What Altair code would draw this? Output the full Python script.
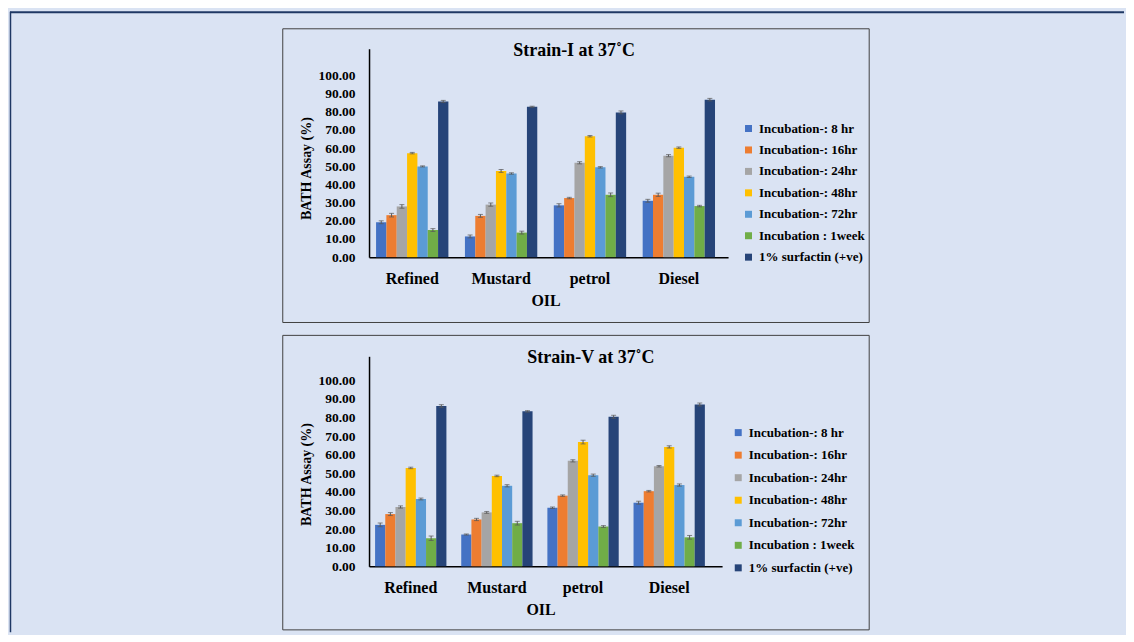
import altair as alt
import pandas as pd

FONT = "Liberation Serif"

oils = ["Refined", "Mustard", "petrol", "Diesel"]
series = [
    "Incubation-: 8 hr",
    "Incubation-: 16hr",
    "Incubation-: 24hr",
    "Incubation-: 48hr",
    "Incubation-: 72hr",
    "Incubation : 1week",
    "1% surfactin (+ve)",
]
colors = ["#4472C4", "#ED7D31", "#A5A5A5", "#FFC000", "#5B9BD5", "#70AD47", "#264478"]

# Strain-I at 37 C (values per oil, in series order)
s1_refined = [19.2, 23.1, 27.9, 57.2, 49.9, 14.9, 85.6]
s1_mustard = [11.4, 22.7, 28.9, 47.4, 46.0, 13.5, 82.7]
s1_petrol = [28.5, 32.5, 51.9, 66.5, 49.4, 34.3, 79.6]
s1_diesel = [31.0, 34.3, 55.8, 60.2, 44.2, 28.1, 86.6]
s1_err_refined = [0.8, 1.0, 1.0, 0.4, 0.3, 0.8, 0.6]
s1_err_mustard = [0.8, 0.8, 0.9, 0.8, 0.4, 0.8, 0.3]
s1_err_petrol = [0.9, 0.4, 0.6, 0.4, 0.4, 1.0, 0.8]
s1_err_diesel = [0.8, 0.9, 0.6, 0.4, 0.4, 0.4, 0.7]

# Strain-V at 37 C
s5_refined = [22.3, 28.1, 31.9, 52.9, 36.2, 15.1, 86.2]
s5_mustard = [17.1, 25.2, 29.0, 48.6, 43.3, 23.2, 83.3]
s5_petrol = [31.5, 38.0, 56.7, 66.8, 49.0, 21.4, 80.4]
s5_diesel = [34.2, 40.4, 53.8, 64.2, 43.7, 15.6, 87.0]
s5_err_refined = [1.0, 0.8, 0.6, 0.4, 0.5, 1.2, 0.7]
s5_err_mustard = [0.3, 0.6, 0.5, 0.4, 0.6, 1.0, 0.4]
s5_err_petrol = [0.4, 0.4, 0.6, 1.0, 0.6, 0.5, 0.8]
s5_err_diesel = [0.8, 0.4, 0.4, 0.6, 0.6, 1.0, 0.8]

y_ticks = [0, 10, 20, 30, 40, 50, 60, 70, 80, 90, 100]


def build_df(values, errors):
    rows = []
    for oil, vals, errs in zip(oils, values, errors):
        for s, v, e in zip(series, vals, errs):
            rows.append({"oil": oil, "series": s, "value": v, "lo": v - e, "hi": v + e})
    return pd.DataFrame(rows)


def panel(df, title_text, p, extra=()):
    xenc = alt.X(
        "oil:N",
        sort=oils,
        scale=alt.Scale(paddingInner=p["pi"], paddingOuter=p["po"], align=p["align"]),
        axis=alt.Axis(
            title="OIL",
            labelAngle=0,
            labelPadding=13,
            labelFontSize=16,
            titleFontSize=16,
            titleY=35,
            titleX=p["oilx"],
        ),
    )
    xoff = alt.XOffset("series:N", sort=series, scale=alt.Scale(paddingInner=0, paddingOuter=0))
    yscale = alt.Scale(domain=[0, p["ymax"]], nice=False, zero=True)
    yaxis = alt.Axis(
        title="BATH Assay (%)",
        values=y_ticks,
        format=".2f",
        labelPadding=14,
        labelFontSize=13.5,
        titleFontSize=14,
        titleX=-62.4,
        titleY=p["yty"],
        titleAlign="center",
        titleBaseline="middle",
    )
    base = alt.Chart(df)
    bars = base.mark_bar().encode(
        x=xenc,
        xOffset=xoff,
        y=alt.Y("value:Q", scale=yscale, axis=yaxis),
        color=alt.Color(
            "series:N",
            sort=series,
            scale=alt.Scale(domain=series, range=colors),
            legend=alt.Legend(
                title=None,
                orient="none",
                legendX=p["lx"],
                legendY=p["ly"],
                symbolType="square",
                symbolSize=49,
                symbolStrokeWidth=0,
                labelFont=FONT,
                labelFontSize=13,
                labelFontWeight="bold",
                labelColor="black",
                rowPadding=p["rp"],
                labelOffset=4,
                padding=0,
            ),
        ),
    )
    err = base.mark_rule(color="#595959", strokeWidth=1).encode(
        x=xenc, xOffset=xoff, y=alt.Y("lo:Q", scale=yscale, axis=yaxis), y2="hi:Q"
    )
    cap_lo = base.mark_tick(color="#595959", size=5, thickness=1).encode(
        x=xenc, xOffset=xoff, y=alt.Y("lo:Q", scale=yscale, axis=yaxis)
    )
    cap_hi = base.mark_tick(color="#595959", size=5, thickness=1).encode(
        x=xenc, xOffset=xoff, y=alt.Y("hi:Q", scale=yscale, axis=yaxis)
    )
    one = alt.Chart(pd.DataFrame({"k": [0]}))
    frame = one.mark_rect(fillOpacity=0, stroke="#404040", strokeWidth=1).encode(
        x=alt.value(-86.5), x2=alt.value(501.5), y=alt.value(p["fy"]), y2=alt.value(p["fy2"])
    )
    title = one.mark_text(
        font=FONT, fontSize=18, fontWeight="bold", color="black", align="center", baseline="middle"
    ).encode(x=alt.value(p["tx"]), y=alt.value(p["ty"]), text=alt.value(title_text))
    layers = [frame, bars, err, cap_lo, cap_hi, title] + list(extra)
    return alt.layer(*layers).properties(width=p["w"], height=p["h"])


one_row = alt.Chart(pd.DataFrame({"k": [0]}))
page_top_line = one_row.mark_rule(color="#1f3864", strokeWidth=2).encode(
    x=alt.value(-360), x2=alt.value(757), y=alt.value(-36.5)
)
page_left_line = one_row.mark_rule(color="#1f3864", strokeWidth=1.5).encode(
    x=alt.value(-359.5), y=alt.value(-37), y2=alt.value(585)
)

top_params = dict(
    w=360, h=209, ymax=114.6, pi=0.186, po=0.113, align=0.35, oilx=177, yty=119.7,
    fy=-20, fy2=274.5, lx=374, ly=73.5, rp=7.5, tx=205.6, ty=2.4,
)
bot_params = dict(
    w=354, h=210.6, ymax=112.9, pi=0.172, po=0.135, align=0.26, oilx=172, yty=118.1,
    fy=-21, fy2=274.3, lx=363.7, ly=70, rp=8.6, tx=222.5, ty=1.9,
)

df1 = build_df(
    [s1_refined, s1_mustard, s1_petrol, s1_diesel],
    [s1_err_refined, s1_err_mustard, s1_err_petrol, s1_err_diesel],
)
df5 = build_df(
    [s5_refined, s5_mustard, s5_petrol, s5_diesel],
    [s5_err_refined, s5_err_mustard, s5_err_petrol, s5_err_diesel],
)

top = panel(df1, "Strain-I at 37˚C", top_params, extra=[page_top_line, page_left_line])
bottom = panel(df5, "Strain-V at 37˚C", bot_params)

chart = (
    alt.vconcat(top, bottom, spacing=99.4, bounds="flush")
    .resolve_scale(x="independent", y="independent", xOffset="independent")
    .resolve_legend(color="independent")
    .properties(padding={"top": 1, "left": 0, "right": 0, "bottom": 0})
    .configure(background="#dae3f3")
    .configure_view(stroke="transparent")
    .configure_axis(
        grid=False,
        ticks=False,
        domainColor="black",
        domainWidth=1.5,
        labelColor="black",
        titleColor="black",
        labelFont=FONT,
        titleFont=FONT,
        labelFontWeight="bold",
        titleFontWeight="bold",
    )
)

chart.save("out.html", embed_options={"renderer": "svg", "actions": False})
